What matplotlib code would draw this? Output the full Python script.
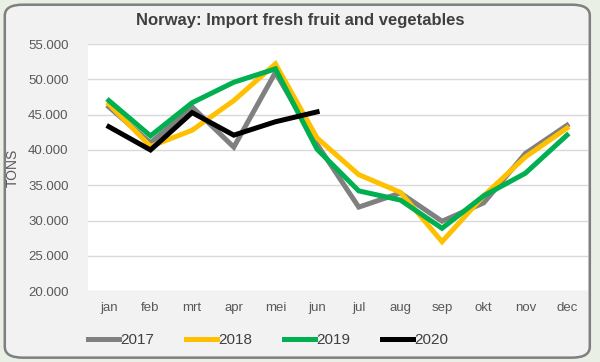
import matplotlib
matplotlib.use("Agg")
from matplotlib import pyplot as plt
from matplotlib.patches import FancyBboxPatch
from matplotlib.ticker import FuncFormatter

plt.rcParams['font.family'] = ['Liberation Sans', 'DejaVu Sans']

months = ['jan', 'feb', 'mrt', 'apr', 'mei', 'jun', 'jul', 'aug', 'sep', 'okt', 'nov', 'dec']
y2017 = [46100, 41000, 46100, 40400, 51000, 40800, 31900, 33900, 29900, 32500, 39500, 43500]
y2018 = [46500, 40500, 42800, 47000, 52200, 41700, 36500, 34000, 27000, 33500, 39000, 43100]
y2019 = [47000, 42000, 46700, 49600, 51500, 40100, 34200, 32900, 28900, 33500, 36700, 42100]
y2020 = [43300, 40000, 45300, 42100, 44000, 45400]

series = [('2017', y2017, '#808080'),
          ('2018', y2018, '#ffc000'),
          ('2019', y2019, '#00b050'),
          ('2020', y2020, '#000000')]

fig = plt.figure(figsize=(6, 3.62), dpi=100)
fig.patch.set_facecolor('#e9efe4')
box = FancyBboxPatch((0.008, 0.012), 0.975, 0.975, boxstyle="round,pad=0,rounding_size=0.03",
                     transform=fig.transFigure, facecolor='#f2f2f2', edgecolor='#7f7f7f',
                     linewidth=1.8, zorder=-5)
fig.patches.append(box)

ax = fig.add_axes([0.1467, 0.196, 0.833, 0.682])
ax.set_zorder(2)
ax.set_facecolor('white')
x = list(range(len(months)))
for name, vals, col in series:
    ax.plot(x[:len(vals)], vals, color=col, lw=3.6, label=name, solid_joinstyle='miter')

ax.set_xlim(-0.5, 11.5)
ax.set_ylim(20000, 55000)
ax.set_yticks(range(20000, 55001, 5000))
ax.yaxis.set_major_formatter(FuncFormatter(lambda v, p: f"{int(v/1000)}.000"))
ax.set_xticks(x)
ax.set_xticklabels(months)
ax.grid(axis='y', color='#d9d9d9', lw=1)
ax.set_axisbelow(True)
for s in ax.spines.values():
    s.set_visible(False)
ax.tick_params(length=0, colors='#595959', labelsize=9.5, pad=8)
ax.tick_params(axis='y', pad=14)
ax.set_ylabel('TONS', color='#595959', fontsize=10, labelpad=6)

fig.text(0.5, 0.943, 'Norway: Import fresh fruit and vegetables', ha='center', va='center',
         fontsize=12, fontweight='bold', color='#404040')

fig.legend(loc='center', bbox_to_anchor=(0.447, 0.06), ncol=4, frameon=False,
           handlelength=2.0, handletextpad=0.1, columnspacing=2.1, fontsize=11,
           labelcolor='#404040')

fig.savefig('out.png', dpi=100, facecolor=fig.get_facecolor())
